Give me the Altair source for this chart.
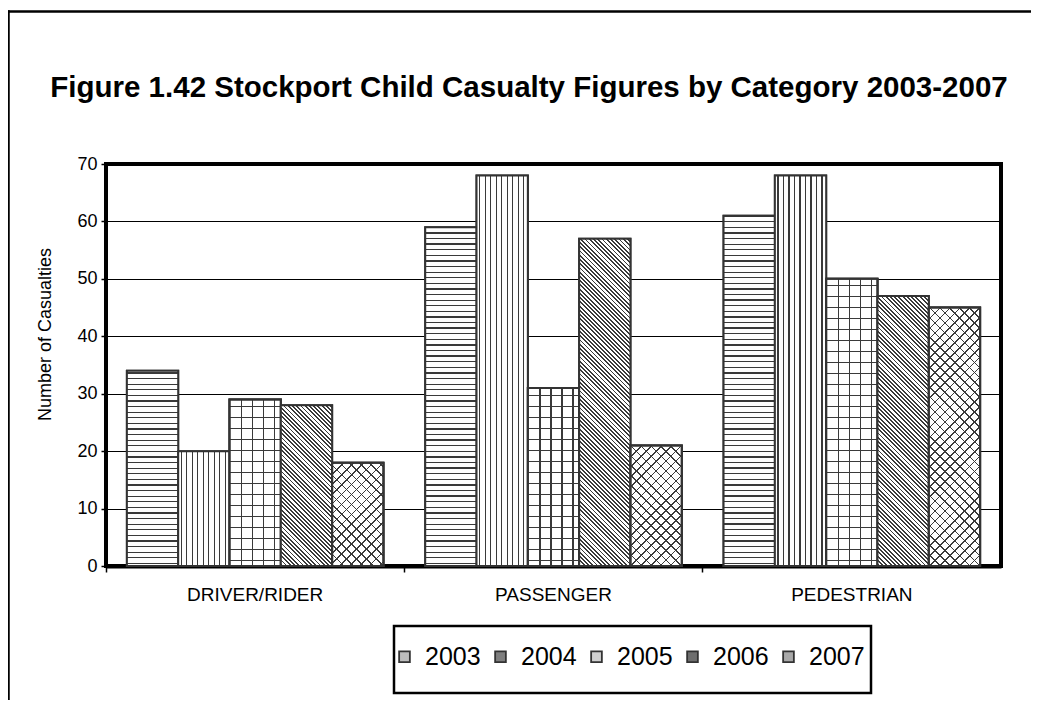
import math
import altair as alt
import pandas as pd

# ---------------- data ----------------
categories = ["DRIVER/RIDER", "PASSENGER", "PEDESTRIAN"]
years = ["2003", "2004", "2005", "2006", "2007"]
v2003 = [34, 59, 61]
v2004 = [20, 68, 68]
v2005 = [29, 31, 50]
v2006 = [28, 57, 47]
v2007 = [18, 21, 45]
y_ticks = [0, 10, 20, 30, 40, 50, 60, 70]
title_text = "Figure 1.42 Stockport Child Casualty Figures by Category 2003-2007"
y_title = "Number of Casualties"

series = {"2003": v2003, "2004": v2004, "2005": v2005, "2006": v2006, "2007": v2007}
df = pd.DataFrame(
    [{"cat": c, "year": y, "value": series[y][i]} for y in years for i, c in enumerate(categories)]
)

# ---------------- layout / style ----------------
FONT = "Liberation Sans"
W, H = 895, 402
YMAX = 70
PAD_IN, PAD_OUT = 0.14, 0.07
PAD_L, PAD_T, PAD_R, PAD_B = 98, 156, 30, 134
step = W / (len(categories) - PAD_IN + 2 * PAD_OUT)
bandw = step * (1 - PAD_IN)
barw = bandw / len(years)
px = H / YMAX

DARK = "#3a3a3a"
LIGHT = "#ffffff"
CLEAR = "rgba(255,255,255,0)"
OUTLINE = "#333333"
legend_grays = ["#bdbdbd", "#7e7e7e", "#cfcfcf", "#6e6e6e", "#a8a8a8"]


def gs(o, c):
    return alt.GradientStop(offset=round(max(0.0, min(1.0, o)), 5), color=c)


def stripe_stops(total, period, lw, light, phase):
    out = [gs(0, light)]
    k = 0
    while True:
        a = (phase + k * period) / total
        if a >= 1:
            break
        b = min((phase + k * period + lw) / total, 1.0)
        out += [gs(a, light), gs(a, DARK), gs(b, DARK), gs(b, light)]
        k += 1
    out.append(gs(1, light))
    return out


def grad(stops, x1, y1, x2, y2):
    return alt.LinearGradient(gradient="linear", stops=stops, x1=x1, y1=y1, x2=x2, y2=y2)


def horiz(h, period, lw, light, phase=2.0):
    return grad(stripe_stops(h, period, lw, light, phase), 0, 1, 0, 0)


def vert(w, period, lw, light, phase=2.0):
    return grad(stripe_stops(w, period, lw, light, phase), 0, 0, 1, 0)


def diag_back(w, h, period, lw, light, phase=1.0):
    c = (w + h) / (w * w + h * h)
    r2 = math.sqrt(2)
    return grad(stripe_stops(w + h, period * r2, lw * r2, light, phase), 0, 1, c * w, 1 - c * h)


def diag_fwd(w, h, period, lw, light, phase=1.0):
    c = (w + h) / (w * w + h * h)
    r2 = math.sqrt(2)
    return grad(stripe_stops(w + h, period * r2, lw * r2, light, phase), 0, 0, c * w, c * h)


X = alt.X(
    "cat:N",
    title=None,
    scale=alt.Scale(domain=categories, paddingInner=PAD_IN, paddingOuter=PAD_OUT),
    axis=alt.Axis(
        labelAngle=0, labelFontSize=19, labelColor="black", labelFont=FONT,
        labelPadding=13, tickSize=6, tickColor="black", tickWidth=1.5,
        domainColor="black", domainWidth=4, grid=False,
        bandPosition=-(PAD_IN * step / 2) / bandw,
    ),
)
XO = alt.XOffset("year:N", scale=alt.Scale(domain=years, paddingInner=0, paddingOuter=0))
Y = alt.Y(
    "value:Q",
    title=y_title,
    scale=alt.Scale(domain=[0, YMAX], nice=False),
    axis=alt.Axis(
        values=y_ticks, labelFontSize=18, labelColor="black", labelFont=FONT,
        labelPadding=4, tickSize=5, tickColor="black", tickWidth=1.5,
        domainColor="black", domainWidth=3, grid=True, gridColor="black",
        gridWidth=1, titleFontSize=18, titleFontWeight="normal", titleFont=FONT,
        titleColor="black", titlePadding=22, titleY=170,
    ),
)

base = alt.Chart(df).mark_bar(stroke=OUTLINE, strokeWidth=2).encode(
    x=X, xOffset=XO, y=Y,
    color=alt.Color(
        "year:N",
        scale=alt.Scale(domain=years, range=legend_grays),
        legend=alt.Legend(
            title=None, orient="none", legendX=286, legendY=480, direction="horizontal",
            columns=5, padding=0, symbolType="square", symbolSize=115,
            symbolStrokeColor=OUTLINE, symbolStrokeWidth=1.8, labelFontSize=25,
            labelFont=FONT, labelColor="black", labelOffset=8, columnPadding=7,
        ),
    ),
)


def pat(year, cat, fill):
    expr = f"datum.year === '{year}'" + (f" && datum.cat === '{cat}'" if cat else "")
    return (
        alt.Chart(df)
        .transform_filter(expr)
        .mark_bar(fill=fill, stroke=OUTLINE, strokeWidth=2)
        .encode(x=X, xOffset=XO, y=Y)
    )


layers = [base]
for i, c in enumerate(categories):
    layers.append(pat("2003", c, horiz(v2003[i] * px, 5.6, 1.3, LIGHT)))
layers.append(pat("2004", None, vert(barw, 5.5, 1.3, LIGHT, phase=2.5)))
for i, c in enumerate(categories):
    layers.append(pat("2005", c, horiz(v2005[i] * px, 11.0, 1.3, LIGHT, phase=5.0)))
layers.append(pat("2005", None, vert(barw, 11.0, 1.3, CLEAR, phase=11.5)))
for i, c in enumerate(categories):
    layers.append(pat("2006", c, diag_back(barw, v2006[i] * px, 3.0, 1.3, LIGHT)))
for i, c in enumerate(categories):
    layers.append(pat("2007", c, diag_back(barw, v2007[i] * px, 7.0, 1.1, LIGHT)))
for i, c in enumerate(categories):
    layers.append(pat("2007", c, diag_fwd(barw, v2007[i] * px, 7.0, 1.1, CLEAR)))

one = alt.Data(values=[{"t": title_text}])
frame_top = alt.Chart(one).mark_rect(fill="black", strokeWidth=0).encode(
    x=alt.value(-98.75), x2=alt.value(W + PAD_R), y=alt.value(-153.75), y2=alt.value(-151.25)
)
frame_left = alt.Chart(one).mark_rect(fill="black", strokeWidth=0).encode(
    x=alt.value(-98.75), x2=alt.value(-96.25), y=alt.value(-153.75), y2=alt.value(H + PAD_B)
)
legend_box = alt.Chart(one).mark_rect(fill="transparent", stroke="black", strokeWidth=2.5).encode(
    x=alt.value(288), x2=alt.value(765), y=alt.value(462), y2=alt.value(529)
)
title = alt.Chart(one).mark_text(
    font=FONT, fontSize=29.5, fontWeight="bold", align="center", baseline="alphabetic", color="black"
).encode(text="t:N", x=alt.value(423), y=alt.value(-67))

layers += [frame_top, frame_left, legend_box, title]

chart = (
    alt.layer(*layers)
    .properties(
        width=W, height=H,
        padding={"left": PAD_L, "top": PAD_T, "right": PAD_R, "bottom": PAD_B},
        autosize=alt.AutoSizeParams(type="none"),
        background="white",
    )
    .configure_view(stroke="black", strokeWidth=4)
)

chart.save("out.html", embed_options={"renderer": "svg", "actions": False})
